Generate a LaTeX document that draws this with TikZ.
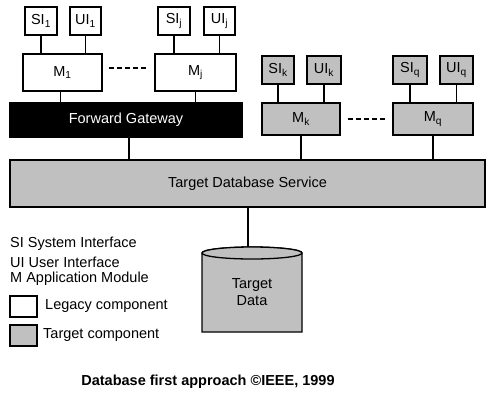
\documentclass[tikz,border=0pt]{standalone}
\usepackage{fontspec}
\setmainfont{Liberation Sans}
\definecolor{tgray}{RGB}{192,192,192}
\begin{document}
\begin{tikzpicture}[x=1pt,y=-1pt,
  every node/.style={font=\fontsize{14.5}{17}\selectfont},
  box/.style={draw, line width=1.3pt, minimum width=#1, inner sep=0pt},
  legacy/.style={box=#1, fill=white},
  target/.style={box=#1, fill=tgray},
  iface/.style={minimum height=28pt},
  modbox/.style={minimum height=35pt},
  conn/.style={line width=1.1pt},
  dots/.style={line width=2.6pt, dash pattern=on 5pt off 3.2pt},
  lbl/.style={anchor=west, inner sep=0pt}
]
\useasboundingbox (0,0) rectangle (492,405);
% legacy side
\node[legacy=32pt, iface] (si1) at (41,21) {SI\textsubscript{1}};
\node[legacy=31pt, iface] (ui1) at (85.5,21) {UI\textsubscript{1}};
\node[legacy=32pt, iface] (sij) at (174,21) {SI\textsubscript{j}};
\node[legacy=31pt, iface] (uij) at (219.5,21) {UI\textsubscript{j}};
\node[legacy=79pt, modbox, minimum height=37pt] (m1) at (62.5,72.5) {M\textsubscript{1}};
\node[legacy=81pt, modbox, minimum height=37pt] (mj) at (195.5,72.5) {M\textsubscript{j}};
\node[box=232pt, minimum height=34pt, fill=black, text=white] (fg) at (126,120) {Forward Gateway};
% target side
\node[target=32pt, iface] (sik) at (278,70) {SI\textsubscript{k}};
\node[target=34pt, iface] (uik) at (324,70) {UI\textsubscript{k}};
\node[target=34pt, iface] (siq) at (410,70) {SI\textsubscript{q}};
\node[target=33pt, iface] (uiq) at (456.5,70) {UI\textsubscript{q}};
\node[target=78pt, minimum height=32pt] (mk) at (301,119) {M\textsubscript{k}};
\node[target=80pt, minimum height=32pt] (mq) at (433,119) {M\textsubscript{q}};
\node[target=475pt, minimum height=47pt] (tds) at (247.5,183.5) {Target Database Service};
% connectors
\draw[conn] (si1.south) -- (si1.south |- m1.north);
\draw[conn] (ui1.south) -- (ui1.south |- m1.north);
\draw[conn] (sij.south) -- (sij.south |- mj.north);
\draw[conn] (uij.south) -- (uij.south |- mj.north);
\draw[conn] ([xshift=-2pt]m1.south) -- ([xshift=-2pt]m1.south |- fg.north);
\draw[conn] (mj.south) -- (mj.south |- fg.north);
\draw[conn] ([xshift=3pt]fg.south) -- ([xshift=3pt]fg.south |- tds.north);
\draw[conn] (sik.south) -- (sik.south |- mk.north);
\draw[conn] (uik.south) -- (uik.south |- mk.north);
\draw[conn] (siq.south) -- (siq.south |- mq.north);
\draw[conn] (uiq.south) -- (uiq.south |- mq.north);
\draw[conn] (mk.south) -- (mk.south |- tds.north);
\draw[conn] (mq.south) -- (mq.south |- tds.north);
\draw[dots] ([xshift=6pt]m1.east |- 0,68) -- ([xshift=-5pt]mj.west |- 0,68);
\draw[dots] ([xshift=7pt]mk.east) -- ([xshift=-6pt]mq.west);
% database cylinder
\coordinate (dbtop) at (248,247);
\draw[line width=1.3pt, fill=tgray] (202,253) -- (202,332) -- (302,332) -- (302,253)
  arc[start angle=0, end angle=180, x radius=50pt, y radius=6pt];
\draw[line width=1.3pt, fill=tgray] (252,253) ellipse [x radius=50pt, y radius=6pt];
\node[align=center, inner sep=0pt, font=\fontsize{14.5}{17}\selectfont] (td) at (252,292) {Target\\Data};
\draw[conn] (tds.south -| dbtop) -- (dbtop);
% legend
\node[lbl] (l1) at (10,244) {SI System Interface};
\node[lbl] (l2) at (10,262) {UI User Interface};
\node[lbl] (l3) at (10,279) {M Application Module};
\node[legacy=27pt, minimum height=21pt] (lb) at (23.5,306.5) {};
\node[target=27pt, minimum height=21pt] (tb) at (23.5,335.5) {};
\node[lbl] (lt1) at (45,306) {Legacy component};
\node[lbl] (lt2) at (43,335) {Target component};
% caption
\node[inner sep=0pt, font=\fontsize{14.5}{17}\selectfont\bfseries] (cap) at (208,382) {Database first approach ©IEEE, 1999};
\end{tikzpicture}
\end{document}
